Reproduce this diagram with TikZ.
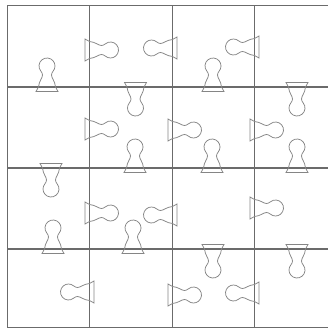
\documentclass[tikz,border=0pt]{standalone}
\begin{document}
\begin{tikzpicture}[x=1pt,y=1pt,
  gridline/.style={draw=black!58,line width=1.2pt},
  keyline/.style={draw=black!48,line width=0.75pt},
  keyhole/.pic={
    \draw[keyline] (-4.5,-11) -- (-4.5,11) -- (0,8.5)
      .. controls (6,8) and (9,4.5) .. (12,4.5)
      .. controls (13.2,4.5) and (14.71,5.17) .. (15.86,6.13)
      arc[start angle=130,end angle=-130,radius=8pt]
      .. controls (14.71,-5.17) and (13.2,-4.5) .. (12,-4.5)
      .. controls (9,-4.5) and (6,-8) .. (0,-8.5) -- cycle;
  }]
\useasboundingbox (0,0) rectangle (328,-329);
% grid
\foreach \gx in {7.5,89.5,172.5,254.5}
  \draw[gridline] (\gx,-5.5) -- (\gx,-327.5);
\foreach \gy in {5.5,87,168,249,327.5}
  \draw[gridline] (7.5,-\gy) -- (328,-\gy);
% keyholes: right (0), up (90), left (180), down (-90)
\foreach \px/\py/\ang in {
  47/87/90, 89.5/50/0, 172.5/48/180, 135.5/87/-90, 213/87/90, 254.5/47/180, 297/87/-90,
  89.5/129/0, 135/168/90, 172.5/130/0, 212/168/90, 254.5/130/0, 297/168/90,
  51/168/-90, 89.5/213/0, 172.5/215/180, 53/249/90, 133/249/90, 254.5/208/0,
  213/249/-90, 297/249/-90, 89.5/292/180, 172.5/295/0, 254.5/293/180}
  \pic[rotate=\ang] at (\px,-\py) {keyhole};
\end{tikzpicture}
\end{document}
